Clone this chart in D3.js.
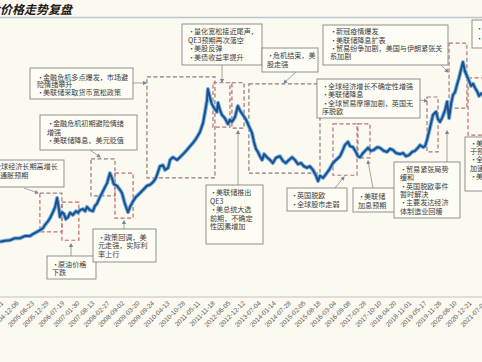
<!DOCTYPE html>
<html>
<head>
<meta charset="utf-8">
<script src="https://cdn.jsdelivr.net/npm/d3@7"></script>
<style>
  html, body { margin: 0; padding: 0; background: #fcfaf0; overflow: hidden; }
  svg { display: block; }
</style>
</head>
<body>
<script>
// --- Dados ---
// [ano decimal, preço (CNY/g)]
const goldSeries = [
  [2004.33,106],[2004.50,108],[2004.68,109],[2004.86,113],[2005.04,113],[2005.21,117],[2005.39,117],
  [2005.50,121],[2005.64,125],[2005.74,128],[2005.85,132],[2005.92,138],[2006.03,145],[2006.10,151],
  [2006.20,162],[2006.28,172],[2006.35,189],[2006.42,166],[2006.45,153],[2006.52,162],[2006.59,159],
  [2006.66,149],[2006.74,153],[2006.81,161],[2006.91,157],[2007.02,164],[2007.09,161],[2007.16,166],
  [2007.27,168],[2007.34,164],[2007.41,172],[2007.51,166],[2007.62,164],[2007.69,174],[2007.76,178],
  [2007.87,191],[2007.94,198],[2008.05,210],[2008.12,217],[2008.22,236],[2008.29,227],[2008.36,215],
  [2008.47,212],[2008.58,204],[2008.65,198],[2008.75,178],[2008.86,162],[2008.93,172],[2009.04,183],
  [2009.14,191],[2009.28,198],[2009.39,204],[2009.53,212],[2009.64,214],[2009.75,219],[2009.85,227],
  [2009.92,238],[2009.99,249],[2010.10,251],[2010.17,242],[2010.28,246],[2010.35,261],[2010.45,266],
  [2010.60,261],[2010.70,266],[2010.81,272],[2010.95,280],[2011.06,287],[2011.16,293],[2011.27,301],
  [2011.41,314],[2011.52,331],[2011.59,352],[2011.66,374],[2011.69,395],[2011.76,380],[2011.83,367],
  [2011.91,359],[2012.01,352],[2012.05,369],[2012.12,355],[2012.19,346],[2012.29,340],[2012.40,329],
  [2012.47,337],[2012.54,333],[2012.65,342],[2012.75,363],[2012.83,354],[2012.93,346],[2013.04,337],
  [2013.14,325],[2013.25,312],[2013.32,295],[2013.39,282],[2013.46,276],[2013.53,268],[2013.61,261],
  [2013.68,272],[2013.78,266],[2013.89,261],[2013.99,255],[2014.10,265],[2014.24,268],[2014.35,259],
  [2014.45,255],[2014.56,261],[2014.67,266],[2014.77,261],[2014.88,253],[2014.99,255],[2015.09,249],
  [2015.20,246],[2015.30,249],[2015.41,242],[2015.52,231],[2015.59,221],[2015.66,231],[2015.77,227],
  [2015.87,234],[2015.98,242],[2016.12,255],[2016.23,261],[2016.37,268],[2016.47,280],[2016.54,289],
  [2016.65,295],[2016.72,287],[2016.83,285],[2016.93,276],[2017.00,268],[2017.08,266],[2017.18,274],
  [2017.29,280],[2017.36,284],[2017.46,278],[2017.57,280],[2017.68,285],[2017.78,284],[2017.92,278],
  [2018.03,276],[2018.14,282],[2018.24,280],[2018.35,274],[2018.49,272],[2018.60,274],[2018.70,268],
  [2018.81,270],[2018.92,276],[2019.02,278],[2019.13,284],[2019.20,289],[2019.31,285],[2019.38,287],
  [2019.45,299],[2019.55,321],[2019.66,346],[2019.77,352],[2019.84,338],[2019.91,333],[2019.98,340],
  [2020.09,355],[2020.16,371],[2020.23,340],[2020.30,367],[2020.37,384],[2020.44,389],[2020.51,403],
  [2020.58,416],[2020.65,431],[2020.72,446],[2020.79,429],[2020.86,420],[2020.94,410],[2021.01,401],
  [2021.08,405],[2021.15,397],[2021.22,391],[2021.29,382],[2021.40,388]
];

const tickLabels = [
  "2004-05-21","2004-12-06","2005-06-23","2005-12-29","2006-07-19","2007-01-30","2007-08-13",
  "2008-02-27","2008-09-02","2009-03-20","2009-09-24","2010-04-13","2010-10-28","2011-05-11",
  "2011-11-18","2012-06-05","2012-12-12","2013-07-04","2014-01-14","2014-07-28","2015-02-05",
  "2015-08-18","2016-03-04","2016-09-08","2017-03-28","2017-10-10","2018-04-20","2018-11-01",
  "2019-05-17","2019-11-26","2020-06-10","2020-12-21","2021-07-01"
];

// períodos destacados: [de, até, preço mínimo, preço máximo]
const periodBoxes = [
  [2005.74, 2006.52, 125, 198],
  [2006.52, 2007.12, 109, 181],
  [2007.55, 2008.40, 193, 263],
  [2008.40, 2009.04, 151, 236],
  [2009.53, 2011.94, 227, 418],
  [2011.87, 2012.47, 323, 407],
  [2012.54, 2012.97, 321, 407],
  [2013.14, 2015.66, 236, 405],
  [2016.12, 2016.97, 232, 329],
  [2017.00, 2017.43, 265, 329],
  [2019.45, 2019.84, 276, 380],
  [2020.23, 2020.86, 359, 482],
  [2020.90, 2021.86, 308, 416]
];

const noteTexts = [
  ["• 金融危机多点爆发，市场避", "险情绪攀升", "• 美联储采取货币宽松政策"],
  ["• 金融危机初期避险情绪", "增强", "• 美联储降息、美元贬值"],
  ["• 全球经济长期高增长", "通胀预期"],
  ["• 原油价格", "下跌"],
  ["• 政策回调，美", "元走强，实际利", "率上行"],
  ["• 量化宽松接近尾声，", "QE3预期再次落空", "• 美股反弹", "• 美债收益率提升"],
  ["• 危机结束，美", "股走强"],
  ["• 美联储推出", "QE3", "• 美总统大选", "前期，不确定", "性因素增加"],
  ["• 英国脱欧", "• 全球股市走弱"],
  ["• 美联储", "加息预期"],
  ["• 贸易紧张局势", "缓和", "• 英国脱欧事件", "暂时解决", "• 主要发达经济", "体制造业回暖"],
  ["• 全球经济增长不确定性增强", "• 美联储降息", "• 全球贸易摩擦加剧，英国无", "序脱欧"],
  ["• 新冠疫情爆发", "• 美联储降息扩表", "• 贸易纷争加剧，美国与伊朗紧张关", "系加剧"],
  ["• 疫苗研发进展", "• 美国大选落地"],
  ["• 美国经济复苏好", "于预期", "• 全球疫苗接种", "加速", "• 美债收益率上行"]
];

// --- Layout das notas (posição em px) ---
// caixa [x0, y0, x1, y1], x do texto, primeira linha base, espaçamento
const noteLayout = [
  { box: [30, 68, 133, 99], tx: 37, ty: 79.5, gap: 7.9 },
  { box: [40, 115, 137, 150], tx: 47, ty: 126, gap: 8.7 },
  { box: [-2, 160, 64, 187], tx: -12, ty: 168.5, gap: 9, tx2: 0 },
  { box: [47, 256, 96, 279], tx: 52, ty: 266.5, gap: 8.3 },
  { box: [93, 229, 156, 262], tx: 98, ty: 239.5, gap: 8.5 },
  { box: [182, 24, 262, 65], tx: 188, ty: 34.3, gap: 8.5 },
  { box: [262, 48, 318, 72], tx: 267, ty: 57.5, gap: 9 },
  { box: [206, 185, 263, 244], tx: 210, ty: 195.3, gap: 8.5 },
  { box: [287, 188, 347, 211], tx: 291, ty: 197.5, gap: 9.6 },
  { box: [353, 188, 395, 212], tx: 358, ty: 198.5, gap: 9 },
  { box: [394, 162, 460, 218], tx: 400, ty: 172, gap: 8.3 },
  { box: [317, 79, 420, 118], tx: 322, ty: 89.2, gap: 8.2 },
  { box: [323, 25, 448, 65], tx: 330, ty: 34.2, gap: 8.3 },
  { box: [472, 20, 500, 48], tx: 476, ty: 30.5, gap: 10 },
  { box: [465, 137, 500, 191], tx: 470, ty: 145.5, gap: 8.4 }
];

const connectors = [
  [133, 83, 146, 83], [90, 150, 100, 157], [24, 188, 38, 193], [71, 256, 71, 244],
  [124, 229, 124, 221], [222, 65, 222, 82], [296, 72, 284, 83], [238, 185, 238, 131],
  [335, 188, 344, 177], [373, 188, 368, 161], [447, 162, 447, 131], [420, 100, 427, 101],
  [441, 65, 448, 72]
];

const boxColors = ["#a77878", "#c06a6a", "#8f7f7f", "#c06a6a", "#8a7c7c", "#c06a6a", "#9a6e6e",
  "#8a7c7c", "#a77878", "#c06a6a", "#a77878", "#a77878", "#c06a6a"];

// --- Configurações ---
const W = 482, H = 362;
const BG = "#fcfaf0";
const CJK = "'Noto Sans CJK SC', 'Noto Sans', sans-serif";
const parseDay = d3.utcParse("%Y-%m-%d");

function yearToDate(v) {
  const yr = Math.floor(v);
  const a = Date.UTC(yr, 0, 1), b = Date.UTC(yr + 1, 0, 1);
  return new Date(a + (v - yr) * (b - a));
}

const svg = d3.select("body").append("svg").attr("width", W).attr("height", H);
svg.append("rect").attr("width", W).attr("height", H).attr("fill", BG);

const x = d3.scaleUtc()
  .domain([parseDay("2004-12-06"), parseDay("2020-12-21")])
  .range([17, 470]);
const y = d3.scaleLinear().domain([100, 450]).range([245, 60]);

// título
svg.append("text")
  .attr("x", -24).attr("y", 13.5)
  .attr("font-family", CJK).attr("font-size", 12).attr("font-weight", "bold")
  .attr("font-style", "italic").attr("fill", "#1b1b1b")
  .text("黄金价格走势复盘");
svg.append("line")
  .attr("x1", 0).attr("x2", W).attr("y1", 17.5).attr("y2", 17.5)
  .attr("stroke", "#bcc6cf").attr("stroke-width", 1.6);

// eixo X
svg.append("line")
  .attr("x1", 0).attr("x2", W).attr("y1", 297).attr("y2", 297)
  .attr("stroke", "#d4d4d0").attr("stroke-width", 1.5);

const xAxis = d3.axisBottom(x)
  .tickValues(tickLabels.map(parseDay))
  .tickFormat(d3.utcFormat("%Y-%m-%d"))
  .tickSize(0);

const gx = svg.append("g").attr("transform", "translate(0,297)").call(xAxis);
gx.select(".domain").remove();
gx.selectAll("text")
  .attr("x", 0).attr("y", 0).attr("dy", "0.35em")
  .attr("transform", "translate(0,5) rotate(-45)")
  .attr("text-anchor", "end")
  .attr("font-family", "'Liberation Sans', Arial, sans-serif")
  .attr("font-size", 6.6)
  .attr("fill", "#5e5e5e");

// caixas tracejadas
svg.append("g").selectAll("rect")
  .data(periodBoxes)
  .enter()
  .append("rect")
  .attr("x", (d) => x(yearToDate(d[0])))
  .attr("y", (d) => y(d[3]))
  .attr("width", (d) => x(yearToDate(d[1])) - x(yearToDate(d[0])))
  .attr("height", (d) => y(d[2]) - y(d[3]))
  .attr("fill", "none")
  .attr("stroke", (d, i) => boxColors[i])
  .attr("stroke-width", 1.2)
  .attr("stroke-dasharray", "4,2.5");

// linha de preço
const line = d3.line()
  .x((d) => x(yearToDate(d[0])))
  .y((d) => y(d[1]));

svg.append("path")
  .datum(goldSeries)
  .attr("d", line)
  .attr("fill", "none")
  .attr("stroke", "#72b2e4")
  .attr("stroke-width", 4)
  .attr("stroke-linejoin", "round");
svg.append("path")
  .datum(goldSeries)
  .attr("d", line)
  .attr("fill", "none")
  .attr("stroke", "#1f4f88")
  .attr("stroke-width", 2)
  .attr("stroke-linejoin", "round");

// notas
const notes = svg.append("g");
noteTexts.forEach((lines, i) => {
  const L = noteLayout[i];
  const [x0, y0, x1, y1] = L.box;
  notes.append("rect")
    .attr("x", x0).attr("y", y0)
    .attr("width", x1 - x0).attr("height", y1 - y0)
    .attr("fill", "#fdfcf5")
    .attr("stroke", "#858585")
    .attr("stroke-width", 0.9);
  lines.forEach((s, k) => {
    const by = L.ty + k * L.gap;
    const t = notes.append("text")
      .attr("y", by)
      .attr("font-family", CJK)
      .attr("font-size", 7.1)
      .attr("fill", "#3c3c3c");
    if (s.startsWith("• ")) {
      t.append("tspan").attr("x", L.tx).text("•");
      t.append("tspan").attr("x", L.tx + 6).text(s.slice(2));
    } else {
      t.attr("x", L.tx2 !== undefined ? L.tx2 : L.tx).text(s);
    }
  });
});

// conectores
const conn = svg.append("g");
connectors.forEach(([ax, ay, bx, by]) => {
  conn.append("line")
    .attr("x1", ax).attr("y1", ay).attr("x2", bx).attr("y2", by)
    .attr("stroke", "#8a8a8a").attr("stroke-width", 0.8);
  const ang = Math.atan2(by - ay, bx - ax) * 180 / Math.PI;
  conn.append("path")
    .attr("d", "M1,0 L-3,-2.2 L-3,2.2 Z")
    .attr("transform", `translate(${bx},${by}) rotate(${ang})`)
    .attr("fill", "#7a86a6");
});
</script>
</body>
</html>
